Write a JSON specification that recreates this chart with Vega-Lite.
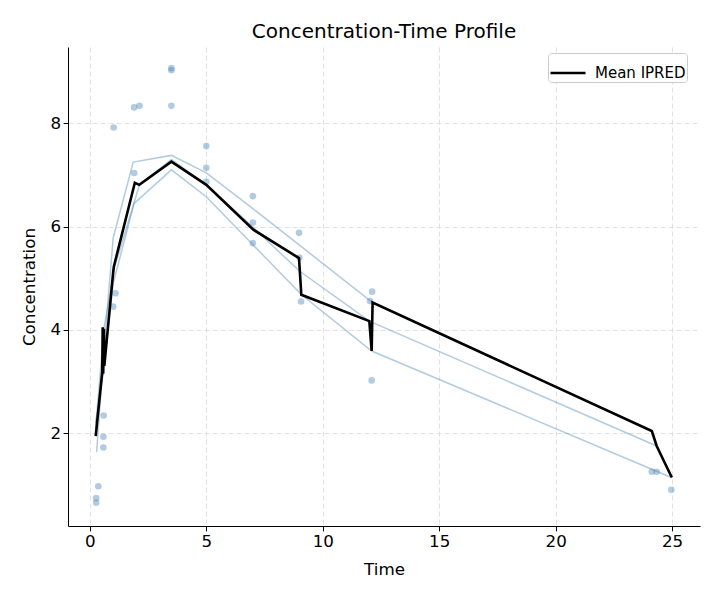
{
  "$schema": "https://vega.github.io/schema/vega-lite/v6.json",
  "width": 632,
  "height": 479,
  "autosize": {"type": "none"},
  "padding": {"left": 68, "top": 47, "right": 20, "bottom": 74},
  "background": "white",
  "title": {"text": "Concentration-Time Profile", "fontSize": 20, "fontWeight": "normal", "font": "DejaVu Sans", "color": "black", "offset": 5},
  "datasets": {
    "obs": [
      {"time": 0.27, "conc": 0.74}, {"time": 0.27, "conc": 0.65}, {"time": 0.36, "conc": 0.97},
      {"time": 0.59, "conc": 2.34}, {"time": 0.58, "conc": 1.93}, {"time": 0.58, "conc": 1.72},
      {"time": 1.02, "conc": 7.92}, {"time": 1.0, "conc": 4.45}, {"time": 1.1, "conc": 4.71},
      {"time": 1.9, "conc": 8.31}, {"time": 2.13, "conc": 8.34}, {"time": 1.9, "conc": 7.04},
      {"time": 3.5, "conc": 9.07}, {"time": 3.5, "conc": 9.03}, {"time": 3.5, "conc": 8.34},
      {"time": 5.0, "conc": 7.56}, {"time": 5.0, "conc": 7.14}, {"time": 5.0, "conc": 6.87},
      {"time": 7.0, "conc": 6.59}, {"time": 7.0, "conc": 6.08}, {"time": 7.0, "conc": 5.68},
      {"time": 8.98, "conc": 5.88}, {"time": 9.0, "conc": 5.4}, {"time": 9.07, "conc": 4.55},
      {"time": 12.03, "conc": 4.56}, {"time": 12.12, "conc": 4.74}, {"time": 12.1, "conc": 3.02},
      {"time": 24.13, "conc": 1.25}, {"time": 24.34, "conc": 1.25}, {"time": 24.97, "conc": 0.9}
    ],
    "ipred": [
      {"id": 1, "time": 0.29, "ipred": 1.63}, {"id": 1, "time": 0.55, "ipred": 3.3}, {"id": 1, "time": 1.0, "ipred": 5.78},
      {"id": 1, "time": 1.86, "ipred": 7.25}, {"id": 1, "time": 3.5, "ipred": 7.38}, {"id": 1, "time": 5.0, "ipred": 7.04},
      {"id": 1, "time": 7.0, "ipred": 6.35}, {"id": 1, "time": 9.0, "ipred": 5.64}, {"id": 1, "time": 12.14, "ipred": 4.53},
      {"id": 1, "time": 24.13, "ipred": 2.04},
      {"id": 2, "time": 0.25, "ipred": 2.1}, {"id": 2, "time": 0.6, "ipred": 4.02}, {"id": 2, "time": 1.07, "ipred": 5.23},
      {"id": 2, "time": 2.13, "ipred": 6.81}, {"id": 2, "time": 3.5, "ipred": 7.3}, {"id": 2, "time": 5.0, "ipred": 6.81},
      {"id": 2, "time": 7.0, "ipred": 5.99}, {"id": 2, "time": 9.0, "ipred": 5.14}, {"id": 2, "time": 12.0, "ipred": 4.17},
      {"id": 2, "time": 24.34, "ipred": 1.75},
      {"id": 3, "time": 0.25, "ipred": 2.2}, {"id": 3, "time": 0.57, "ipred": 3.15}, {"id": 3, "time": 1.0, "ipred": 4.9},
      {"id": 3, "time": 1.9, "ipred": 6.45}, {"id": 3, "time": 3.5, "ipred": 7.1}, {"id": 3, "time": 5.0, "ipred": 6.58},
      {"id": 3, "time": 7.0, "ipred": 5.65}, {"id": 3, "time": 9.09, "ipred": 4.68}, {"id": 3, "time": 12.1, "ipred": 3.59},
      {"id": 3, "time": 24.97, "ipred": 1.14}
    ],
    "mean": [
      {"label": "Mean IPRED", "time": 0.25, "ipred": 1.94},
      {"label": "Mean IPRED", "time": 0.53, "ipred": 3.18},
      {"label": "Mean IPRED", "time": 0.55, "ipred": 4.05},
      {"label": "Mean IPRED", "time": 0.57, "ipred": 3.15},
      {"label": "Mean IPRED", "time": 0.6, "ipred": 4.02},
      {"label": "Mean IPRED", "time": 0.62, "ipred": 3.3},
      {"label": "Mean IPRED", "time": 1.0, "ipred": 5.12},
      {"label": "Mean IPRED", "time": 1.03, "ipred": 5.23},
      {"label": "Mean IPRED", "time": 1.93, "ipred": 6.85},
      {"label": "Mean IPRED", "time": 2.12, "ipred": 6.81},
      {"label": "Mean IPRED", "time": 3.5, "ipred": 7.26},
      {"label": "Mean IPRED", "time": 5.0, "ipred": 6.81},
      {"label": "Mean IPRED", "time": 7.02, "ipred": 5.94},
      {"label": "Mean IPRED", "time": 8.98, "ipred": 5.39},
      {"label": "Mean IPRED", "time": 9.08, "ipred": 4.68},
      {"label": "Mean IPRED", "time": 12.0, "ipred": 4.17},
      {"label": "Mean IPRED", "time": 12.1, "ipred": 3.59},
      {"label": "Mean IPRED", "time": 12.14, "ipred": 4.53},
      {"label": "Mean IPRED", "time": 24.13, "ipred": 2.04},
      {"label": "Mean IPRED", "time": 24.34, "ipred": 1.75},
      {"label": "Mean IPRED", "time": 24.99, "ipred": 1.14}
    ]
  },
  "encoding": {
    "x": {
      "type": "quantitative",
      "scale": {"domain": [-0.94, 26.2], "nice": false, "zero": false},
      "axis": {"title": "Time", "values": [0, 5, 10, 15, 20, 25], "format": "d"}
    },
    "y": {
      "type": "quantitative",
      "scale": {"domain": [0.2, 9.48], "nice": false, "zero": false},
      "axis": {"title": "Concentration", "values": [2, 4, 6, 8], "format": "d"}
    }
  },
  "layer": [
    {
      "data": {"name": "obs"},
      "mark": {"type": "circle", "size": 44, "color": "#4682b4", "opacity": 0.42},
      "encoding": {"x": {"field": "time"}, "y": {"field": "conc"}}
    },
    {
      "data": {"name": "ipred"},
      "mark": {"type": "line", "color": "#4682b4", "opacity": 0.42, "strokeWidth": 1.5},
      "encoding": {"x": {"field": "time"}, "y": {"field": "ipred"}, "detail": {"field": "id", "type": "nominal"}, "order": {"field": "time"}}
    },
    {
      "data": {"name": "mean"},
      "mark": {"type": "line", "strokeWidth": 2.6, "strokeJoin": "miter"},
      "encoding": {
        "x": {"field": "time"},
        "y": {"field": "ipred"},
        "order": {"field": "time"},
        "color": {
          "field": "label", "type": "nominal",
          "scale": {"domain": ["Mean IPRED"], "range": ["black"]},
          "legend": {
            "title": null, "orient": "none", "legendX": 480, "legendY": 6,
            "symbolType": "stroke", "symbolSize": 1225, "symbolStrokeWidth": 2.6,
            "labelFontSize": 15, "labelFont": "DejaVu Sans", "labelColor": "black", "labelOffset": 8,
            "padding": 1, "strokeColor": "#cccccc", "fillColor": "white", "cornerRadius": 3
          }
        }
      }
    }
  ],
  "config": {
    "view": {"stroke": null},
    "font": "DejaVu Sans",
    "axis": {
      "domainColor": "black", "domainWidth": 1, "tickColor": "black", "tickSize": 4.9, "tickWidth": 1,
      "labelFontSize": 16.7, "labelColor": "black", "labelFont": "DejaVu Sans", "labelPadding": 2.5,
      "titleFontSize": 16.7, "titleFontWeight": "normal", "titleColor": "black", "titleFont": "DejaVu Sans",
      "grid": true, "gridColor": "#d9d9d9", "gridDash": [5, 3], "gridWidth": 0.8
    },
    "axisX": {"titlePadding": 11, "labelFlush": false},
    "axisY": {"titlePadding": 11.5}
  }
}
